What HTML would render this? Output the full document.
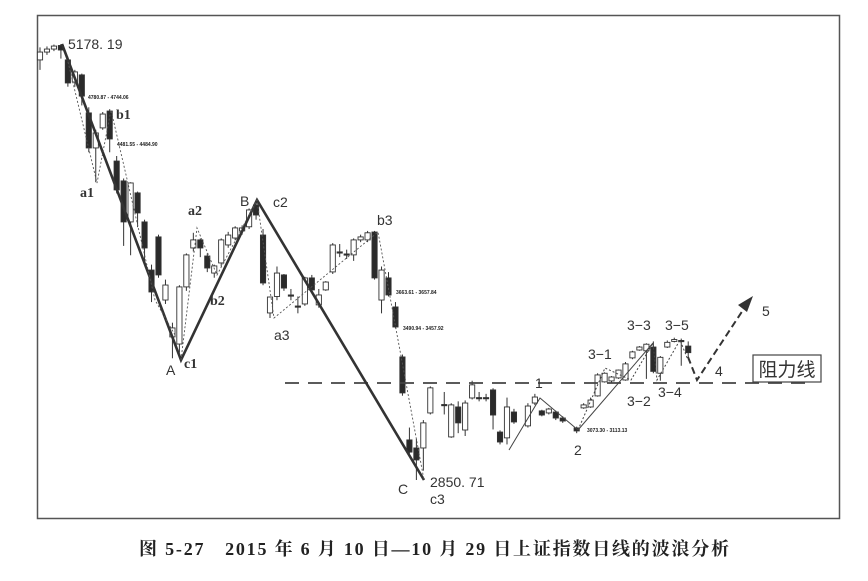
<!DOCTYPE html>
<html><head><meta charset="utf-8"><style>
html,body{margin:0;padding:0;background:#fff;width:868px;height:581px;overflow:hidden}
svg{display:block}
.lb{font-family:"Liberation Serif","Noto Serif CJK SC",serif;font-weight:bold;font-size:14px;fill:#333}
.ls{font-family:"Liberation Sans",sans-serif;font-size:14px;fill:#333}
.tiny{font-family:"Liberation Sans",sans-serif;font-size:5px;fill:#222;font-weight:bold}
</style></head><body>
<svg id="chart" width="868" height="581" viewBox="0 0 868 581" xmlns="http://www.w3.org/2000/svg">
<rect x="37.5" y="15.5" width="802" height="503" fill="#fff" stroke="#555" stroke-width="1.5"/>
<g id="candles"></g>
<g id="overlay">
<line x1="285" y1="383" x2="812" y2="383" stroke="#444" stroke-width="1.8" stroke-dasharray="14,9"/>
<polyline points="62,44 181,360 257,200 424,480" fill="none" stroke="#333" stroke-width="2.6"/>
<polyline points="68,62 97,183 111,110 155,300 175,335" fill="none" stroke="#555" stroke-width="0.9" stroke-dasharray="2,2"/>
<polyline points="181,360 197,228 217,275 257,200 274,318 378,232 424,480" fill="none" stroke="#555" stroke-width="0.9" stroke-dasharray="2,2"/>
<polyline points="509,450 540,398 578,430" fill="none" stroke="#444" stroke-width="1"/>
<line x1="578" y1="430" x2="653" y2="343" stroke="#444" stroke-width="1"/>
<polyline points="578,430 605,368 631,380 653,343 657,380 680,340 688,360" fill="none" stroke="#444" stroke-width="1" stroke-dasharray="2,2"/>
<polyline points="688,357 697,380 745,307" fill="none" stroke="#333" stroke-width="2" stroke-dasharray="7,4"/>
<polygon points="753,296 738,305 747,312" fill="#333"/>
<rect x="753" y="355" width="68" height="27" fill="#fff" stroke="#444" stroke-width="1.2"/>
<text x="787" y="376" text-anchor="middle" style="font-family:'Liberation Sans','Noto Sans CJK SC',sans-serif;font-size:19px;fill:#333">阻力线</text>
</g>
<g>
<text class="ls" x="68" y="49" font-size="14">5178. 19</text>
<text class="lb" x="116" y="119">b1</text>
<text class="lb" x="80" y="197">a1</text>
<text class="lb" x="188" y="215">a2</text>
<text class="ls" x="240" y="206" font-size="15">B</text>
<text class="ls" x="273" y="207">c2</text>
<text class="ls" x="377" y="225">b3</text>
<text class="lb" x="210" y="305">b2</text>
<text class="ls" x="274" y="340">a3</text>
<text class="ls" x="166" y="375" font-size="15">A</text>
<text class="lb" x="184" y="368">c1</text>
<text class="ls" x="398" y="494" font-size="15">C</text>
<text class="ls" x="430" y="504">c3</text>
<text class="ls" x="430" y="487">2850. 71</text>
<text class="ls" x="535" y="388">1</text>
<text class="ls" x="574" y="455">2</text>
<text class="ls" x="588" y="359">3−1</text>
<text class="ls" x="627" y="330">3−3</text>
<text class="ls" x="665" y="330">3−5</text>
<text class="ls" x="627" y="406">3−2</text>
<text class="ls" x="658" y="397">3−4</text>
<text class="ls" x="715" y="376">4</text>
<text class="ls" x="762" y="316">5</text>
<text class="tiny" x="88" y="99">4780.87 - 4744.06</text>
<text class="tiny" x="117" y="146">4481.55 - 4484.90</text>
<text class="tiny" x="396" y="294">3663.61 - 3657.84</text>
<text class="tiny" x="403" y="330">3490.94 - 3457.92</text>
<text class="tiny" x="587" y="432">3073.30 - 3113.13</text>
</g>
<text x="434" y="555" text-anchor="middle" textLength="590" lengthAdjust="spacing" style="font-family:'Liberation Serif','Noto Serif CJK SC',serif;font-size:18px;font-weight:bold;fill:#222">图 5-27　2015 年 6 月 10 日—10 月 29 日上证指数日线的波浪分析</text>
</svg>
<script>
const dayIdx=[0,1,2,3,4,5,6,7,8,9,10,11,12,13,14,15,16,17,18,19,20,21,22,23,24,25,26,27,28,29,30,31,32,33,34,35,36,37,38,39,40,41,42,43,44,45,46,47,48,49,50,51,52,53,54,55,56,58,59,60,61,62,63,64,65,66,67,68,70,71,72,73,74,75,77,78,79,80,81,82,83,84,85,86,87,88,89,90,91,92,93];
const opens=[5093,5135,5151,5170,5093,4975,5013,4810,4623,4730,4820,4553,4447,4228,4383,4228,3971,4148,3811,3614,3576,3881,4089,4132,4046,3955,4009,4105,4142,4180,4202,4318,4158,3742,3830,3945,3838,3779,3790,3929,3785,3865,3961,4068,4057,4052,4132,4132,4174,3811,3929,3774,3507,3064,3021,3021,3208,3253,3080,3240,3117,3288,3290,3290,3331,3106,3075,3213,3139,3261,3219,3208,3213,3181,3128,3235,3240,3299,3374,3379,3395,3384,3502,3544,3540,3560,3420,3560,3590,3595,3565];
const closes=[5135,5151,5167,5146,4970,5029,4900,4623,4703,4804,4671,4399,4228,4436,4276,4089,3854,3945,3891,3662,3881,4052,4132,4089,3982,3993,4132,4158,4196,4196,4292,4265,3902,3827,3955,3875,3833,3774,3929,3865,3838,3907,4105,4063,4052,4132,4148,4170,3929,3971,3838,3667,3315,2999,2957,3155,3342,3248,3251,3155,3261,3358,3286,3286,3197,3053,3240,3160,3245,3293,3197,3229,3181,3165,3112,3251,3277,3411,3420,3400,3437,3470,3534,3560,3575,3430,3505,3585,3600,3590,3530];
const highs=[5160,5165,5175,5178,5110,5040,5020,4840,4720,4815,4830,4580,4460,4440,4390,4240,4000,4160,3920,3690,3890,4060,4170,4140,4060,4000,4140,4175,4205,4210,4300,4345,4190,3830,3990,3950,3870,3830,3935,3945,3870,3912,4115,4110,4080,4140,4160,4180,4180,3990,3960,3800,3520,3130,3070,3170,3350,3320,3260,3270,3275,3380,3320,3310,3340,3115,3290,3230,3260,3310,3225,3235,3220,3190,3135,3260,3290,3420,3425,3405,3440,3480,3540,3565,3580,3590,3512,3595,3610,3605,3590];
const lows=[5040,5120,5140,5100,4950,4950,4850,4600,4440,4720,4600,4380,4100,4050,4200,4000,3800,3930,3790,3500,3530,3860,4070,4040,3960,3930,3990,4090,4130,4160,4190,4240,3890,3715,3810,3860,3810,3740,3780,3860,3770,3860,3950,4040,4030,4020,4120,4120,3920,3740,3830,3660,3300,2990,2850,2900,3200,3200,3075,3100,3085,3280,3270,3270,3120,3040,3040,3150,3130,3250,3190,3200,3170,3155,3100,3230,3235,3295,3370,3370,3390,3380,3495,3540,3390,3420,3380,3555,3585,3460,3500];
const PMAX=5178, PMIN=2850, YTOP=44, YBOT=480;
function yScale(p){return YTOP+(PMAX-p)*(YBOT-YTOP)/(PMAX-PMIN);}
function xScale(i){return 40+i*6.97;}
const NS='http://www.w3.org/2000/svg';
const g=document.getElementById('candles');
for(let k=0;k<opens.length;k++){
  const x=xScale(dayIdx[k]);
  const o=opens[k],c=closes[k];
  const up=c>=o;
  const wick=document.createElementNS(NS,'line');
  
  
  wick.setAttribute('x1',x);wick.setAttribute('x2',x);
  wick.setAttribute('y1',yScale(highs[k]));wick.setAttribute('y2',yScale(lows[k]));
  wick.setAttribute('stroke','#333');wick.setAttribute('stroke-width','1');
  g.appendChild(wick);
  const top=yScale(Math.max(o,c)),bot=yScale(Math.min(o,c));
  const r=document.createElementNS(NS,'rect');
  
  
  r.setAttribute('x',x-2.6);r.setAttribute('width',5.2);
  r.setAttribute('y',top);r.setAttribute('height',Math.max(1.2,bot-top));
  r.setAttribute('fill',up?'#fff':'#2a2a2a');
  r.setAttribute('stroke','#333');r.setAttribute('stroke-width','0.9');
  g.appendChild(r);
}
</script>
</body></html>
